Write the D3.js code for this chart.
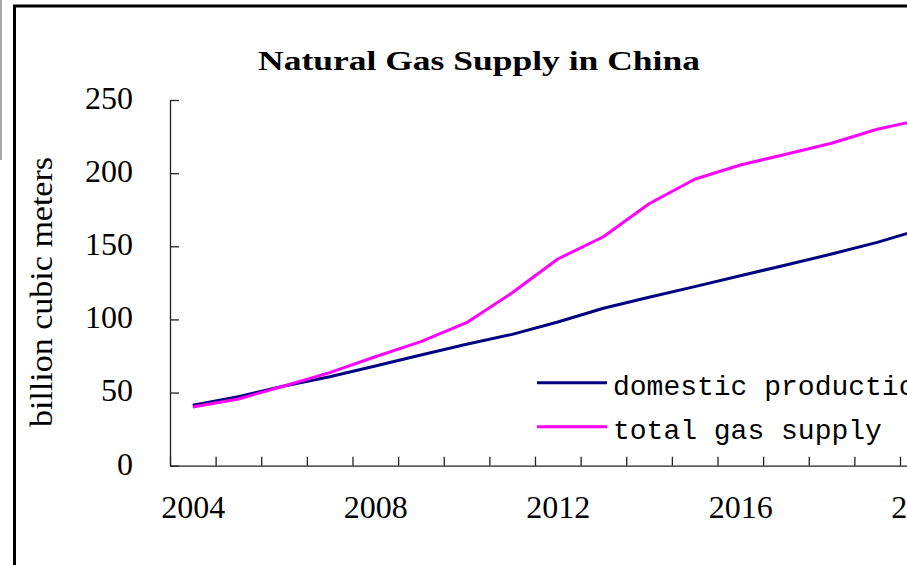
<!DOCTYPE html>
<html>
<head>
<meta charset="utf-8">
<script src="https://cdn.jsdelivr.net/npm/d3@7"></script>
<style>
  html, body { margin: 0; padding: 0; background: #fff; overflow: hidden; }
  svg { display: block; }
</style>
</head>
<body>
<script>
// ---- data ----
const years = [2004, 2005, 2006, 2007, 2008, 2009, 2010, 2011, 2012, 2013, 2014, 2015, 2016, 2017, 2018, 2019, 2020];
const domesticProduction = [41.3, 47.2, 54.5, 60.8, 68.2, 75.7, 83.0, 89.8, 98.2, 107.6, 115.1, 122.4, 129.9, 137.2, 144.7, 152.7, 162.0];
const totalGasSupply     = [40.1, 45.6, 54.5, 63.6, 74.5, 84.8, 97.8, 118.2, 141.3, 156.5, 179.1, 195.8, 205.6, 212.9, 220.4, 230.0, 236.8];
const yTicks = [0, 50, 100, 150, 200, 250];
const xLabelYears = [2004, 2008, 2012, 2016, 2020];
const seriesNames = ["domestic production", "total gas supply"];
const title = "Natural Gas Supply in China";
const yTitle = "billion cubic meters";

// ---- layout ----
const W = 1000, H = 565;
const svg = d3.select("body").append("svg").attr("width", W).attr("height", H);

// outer frame pieces
svg.append("line").attr("x1", 1).attr("x2", 1).attr("y1", 0).attr("y2", 160)
  .attr("stroke", "#8a8a8a").attr("stroke-width", 1.5);
svg.append("rect").attr("x", 14.5).attr("y", 6).attr("width", 1200).attr("height", 800)
  .attr("fill", "none").attr("stroke", "#000").attr("stroke-width", 3);

const step = 45.625;
const x = d3.scaleLinear()
  .domain([years[0] - 0.5, years[years.length - 1] + 0.5])
  .range([170, 170 + step * years.length]);
const y = d3.scaleLinear().domain([0, 250]).range([465.7, 100]);

const serif = "'Liberation Serif', 'Times New Roman', serif";
const mono = "'Liberation Mono', 'Courier New', monospace";

// title
svg.append("text")
  .attr("x", 258).attr("y", 70)
  .attr("textLength", 442).attr("lengthAdjust", "spacingAndGlyphs")
  .attr("font-family", serif).attr("font-weight", "bold").attr("font-size", 28)
  .attr("fill", "#000").text(title);

// y axis title
svg.append("text")
  .attr("transform", "translate(52,292) rotate(-90)")
  .attr("text-anchor", "middle")
  .attr("textLength", 270).attr("lengthAdjust", "spacingAndGlyphs")
  .attr("font-family", serif).attr("font-size", 32)
  .attr("fill", "#000").text(yTitle);

// y axis
const gy = svg.append("g").attr("transform", "translate(170,0)")
  .call(d3.axisLeft(y).tickValues(yTicks).tickSize(-9).tickSizeOuter(0).tickPadding(37));
gy.selectAll("text").attr("font-family", serif).attr("font-size", 32).attr("fill", "#000").attr("dy", "0.26em");

// x axis (ticks at category boundaries)
const boundaries = years.map(d => d - 0.5).concat([years[years.length - 1] + 0.5]);
const gx = svg.append("g").attr("transform", `translate(0,${y(0)})`)
  .call(d3.axisBottom(x).tickValues(boundaries).tickSize(-9).tickSizeOuter(0).tickFormat(""));
const gxl = svg.append("g").attr("transform", `translate(0,${y(0)})`)
  .call(d3.axisBottom(x).tickValues(xLabelYears).tickSize(0).tickPadding(30).tickFormat(d3.format("d")));
gxl.select(".domain").remove();
gxl.selectAll("text").attr("font-family", serif).attr("font-size", 32).attr("fill", "#000");

[gy, gx].forEach(g => {
  g.selectAll(".domain, line").attr("stroke", "#222").attr("stroke-width", 1.3);
});

// lines
const colors = ["#000080", "#ff00ff"];
const seriesData = [domesticProduction, totalGasSupply];
const line = d3.line().x((d, i) => x(years[i])).y(d => y(d));
seriesData.forEach((s, k) => {
  svg.append("path").datum(s)
    .attr("fill", "none").attr("stroke", colors[k]).attr("stroke-width", 3)
    .attr("stroke-linejoin", "round")
    .attr("d", line);
});

// legend
const legendY = [382.7, 426.7];
seriesNames.forEach((name, k) => {
  svg.append("line").attr("x1", 537).attr("x2", 607)
    .attr("y1", legendY[k]).attr("y2", legendY[k])
    .attr("stroke", colors[k]).attr("stroke-width", 3);
  svg.append("text").attr("x", 613).attr("y", legendY[k] + 12)
    .attr("font-family", mono).attr("font-size", 28).attr("fill", "#000")
    .text(name);
});
</script>
</body>
</html>
